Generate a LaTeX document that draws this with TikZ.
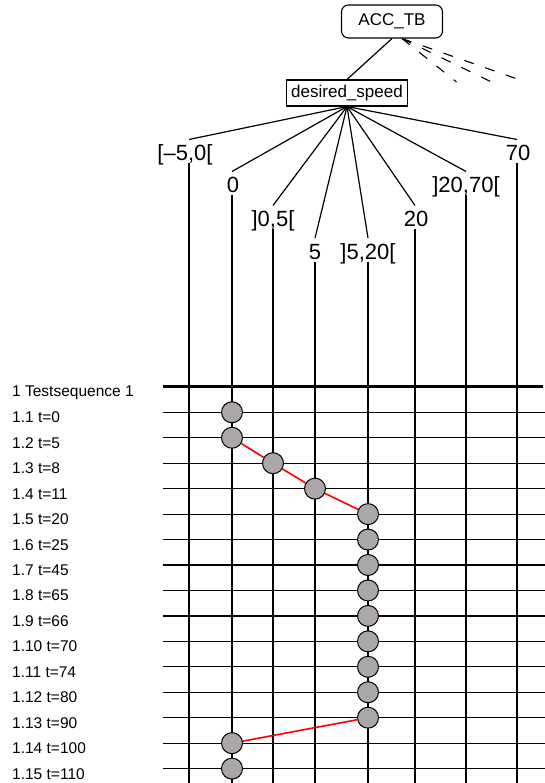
\documentclass[tikz,border=0pt]{standalone}
\usepackage{fontspec}
\setmainfont{Liberation Sans}
\usetikzlibrary{positioning,calc}
\definecolor{markgray}{RGB}{170,166,170}
\tikzset{cls/.style={font=\fontsize{22}{24}\selectfont,inner sep=0pt,text height=21pt,text depth=2.5pt,anchor=base},
rowlab/.style={font=\fontsize{15.5}{17}\selectfont,inner sep=0pt,anchor=base west},
tcmark/.style={draw,fill=markgray,circle,minimum size=21pt,inner sep=0pt,line width=1pt}}
\tikzstyle{box}  = [draw, line width=1.1pt, font=\fontsize{17}{19}\selectfont, inner sep=0pt]
\tikzstyle{grid} = [line width=1.2pt]
\tikzstyle{path} = [red, line width=1.6pt]

\begin{document}
\begin{tikzpicture}[x=1pt,y=-1pt]
		\useasboundingbox (0,0) rectangle (545,783);
		% tree part
		\node[box,rounded corners=7pt,minimum width=101pt,minimum height=33pt] (acc) at (392,21.5) {ACC\_TB};
		\node[box,minimum width=121pt,minimum height=26pt] (ds) at (347,93) {desired\_speed};
		\draw[grid] (acc.south) -- (ds.north);
		\coordinate (d0) at ([xshift=10pt]acc.south);
		\coordinate (d1) at (523,81);
		\coordinate (d2) at (491.5,82);
		\coordinate (d3) at (456.5,82);
		\foreach \d in {1,2,3}
			\draw[line width=1.1pt,dash pattern=on 10pt off 12pt] (d0) -- (d\d);

		\foreach \x/\y/\t/\s[count=\i] in {
				189/160.7/{[–5,0[}/-4,
				232/192.7/0/1,
				273/226.7/{]0,5[}/0,
				315/259.3/5/0,
				368/259.3/{]5,20[}/0,
				415/226.7/20/1,
				466/192.7/{]20,70[}/0,
				517/160.7/70/1
			}{
			\node[cls] (c\i) at (\x+\s,\y) {\t};
			\coordinate (t\i) at (c\i.north -| \x,0);
			\coordinate (b\i) at (c\i.south -| \x,0);
			\coordinate (e\i) at (\x,783);
			\draw[grid] (ds.south) -- (t\i);
			\draw[grid] (b\i) -- (e\i);
		}

		% test sequence
		\coordinate (sl) at (163,386.7);
		\coordinate (sr) at (543,386.7);
		\draw[line width=2.5pt] (sl) -- (sr);
		\node[rowlab] (s0) at (12,396.7) {1 Testsequence 1};
		\foreach \t[count=\i] in {
				t=0, t=5, t=8, t=11, t=20, t=25, t=45, t=65,
				t=66, t=70, t=74, t=80, t=90, t=100, t=110
			}{
			\coordinate (l\i) at (163,{412.3+(\i-1)*25.45});
			\coordinate (r\i) at (545,{412.3+(\i-1)*25.45});
			\draw[grid] (l\i) -- (r\i);
			\node[rowlab] (s\i) at ([yshift=-10.5pt]l\i -| 12,0) {1.\i{} \t};
		}

		% marks
		\foreach \c[count=\i] in {2,2,3,4,5,5,5,5,5,5,5,5,5,2,2}
			\node[tcmark] (m\i) at (b\c |- l\i) {};
		\draw[path] (m2) -- (m3) -- (m4) -- (m5);
		\draw[path] (m13) -- (m14);
	\end{tikzpicture}
\end{document}
